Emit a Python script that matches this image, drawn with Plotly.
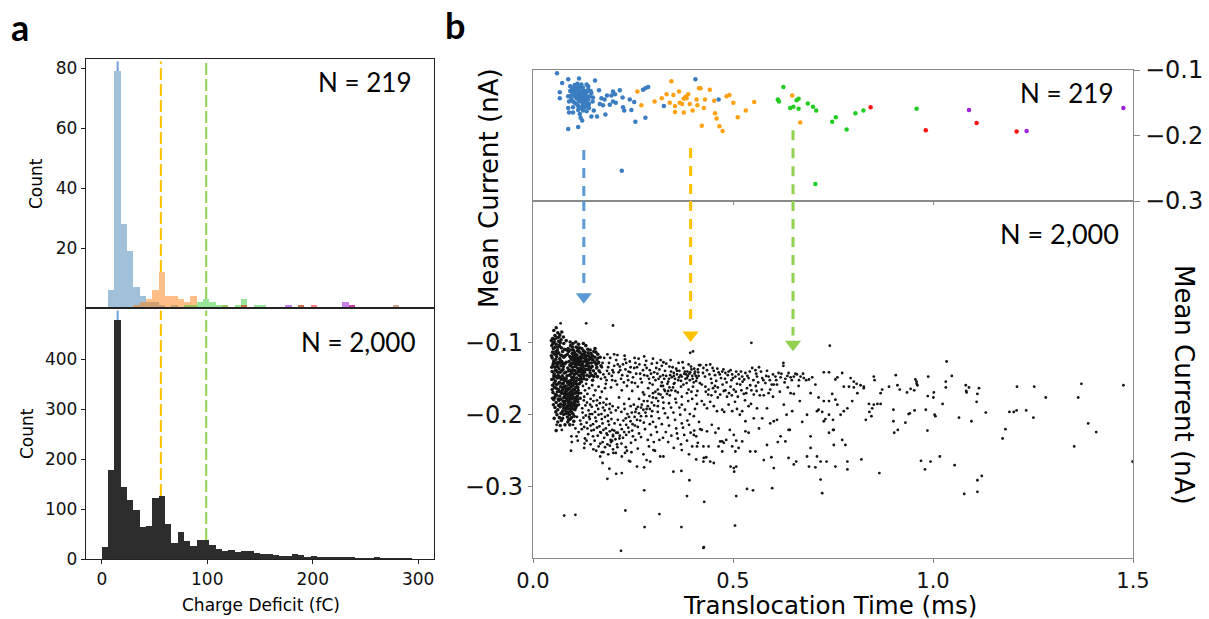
import plotly.graph_objects as go

# ---------------- DATA ----------------
# Panel a: charge-deficit histograms (6 fC bins, centres in fC)
bin_centers_fc = [3, 9, 15, 21, 27, 33, 39, 45, 51, 57, 63, 69, 75, 81, 87, 93, 99, 105, 111, 117,
                  123, 129, 135, 141, 147, 153, 159, 165, 171, 177, 183, 189, 195, 201, 207, 213,
                  219, 225, 231, 237, 243, 249, 255, 261, 267, 273, 279, 285, 291, 297]
bin_width_fc = 6
counts_2000 = [24, 178, 478, 144, 119, 98, 64, 66, 123, 126, 70, 32, 54, 36, 27, 38, 38, 28, 20, 17,
               18, 14, 17, 16, 12, 11, 11, 9, 7, 7, 10, 8, 4, 6, 3, 3, 3, 3, 4, 4,
               2, 1, 2, 4, 1, 1, 2, 2, 1, 0]

h219_blue_x = [9, 15, 21, 27, 33, 39, 45, 51, 57, 69]
h219_blue_y = [6, 79, 28, 19, 7, 4, 2, 2, 1, 1]
h219_orange_x = [33, 39, 45, 51, 57, 63, 69, 75, 81, 87, 117]
h219_orange_y = [1, 2, 3, 6, 12, 4, 4, 3, 2, 4, 1]
h219_green_x = [81, 87, 93, 99, 105, 111, 117, 129, 135, 147, 153, 189]
h219_green_y = [1, 1, 2, 3, 2, 1, 1, 1, 3, 1, 1, 1]
h219_red_x = [135, 189, 201, 237]
h219_red_y = [1, 1, 1, 1]
h219_purple_x = [177, 231, 237]
h219_purple_y = [1, 2, 1]
h219_brown_x = [279]
h219_brown_y = [1]

peak_marks_fc = [15, 56, 99]
hist_top_range = [0, 83]
hist_bottom_range = [0, 502]

# Panel b top: 219 events (translocation time ms, mean current nA)
ev219_blue = [
    (0.060, -0.105), (0.073, -0.120), (0.088, -0.114), (0.115, -0.113), (0.155, -0.116),
    (0.104, -0.123), (0.111, -0.121), (0.121, -0.122), (0.134, -0.122), (0.098, -0.128),
    (0.107, -0.127), (0.117, -0.126), (0.125, -0.127), (0.138, -0.125), (0.067, -0.134),
    (0.093, -0.132), (0.102, -0.133), (0.113, -0.132), (0.124, -0.132), (0.134, -0.134),
    (0.146, -0.135), (0.165, -0.131), (0.200, -0.133), (0.217, -0.131), (0.205, -0.137),
    (0.196, -0.139), (0.185, -0.139), (0.067, -0.143), (0.088, -0.140), (0.096, -0.145),
    (0.109, -0.143), (0.117, -0.140), (0.129, -0.143), (0.138, -0.145), (0.090, -0.148),
    (0.104, -0.150), (0.117, -0.148), (0.125, -0.150), (0.134, -0.149), (0.149, -0.148),
    (0.171, -0.143), (0.179, -0.145), (0.200, -0.148), (0.207, -0.150), (0.192, -0.153),
    (0.175, -0.154), (0.167, -0.152), (0.224, -0.142), (0.242, -0.145), (0.253, -0.149),
    (0.088, -0.158), (0.100, -0.157), (0.113, -0.155), (0.121, -0.158), (0.129, -0.157),
    (0.140, -0.158), (0.152, -0.162), (0.090, -0.165), (0.100, -0.165), (0.117, -0.167),
    (0.134, -0.163), (0.146, -0.171), (0.160, -0.171), (0.181, -0.168), (0.225, -0.157),
    (0.228, -0.162), (0.246, -0.161), (0.119, -0.173), (0.123, -0.177), (0.088, -0.190),
    (0.113, -0.187), (0.256, -0.179), (0.281, -0.173), (0.275, -0.130), (0.281, -0.128),
    (0.288, -0.126), (0.406, -0.114), (0.327, -0.155), (0.464, -0.145), (0.222, -0.254),
    (0.109, -0.125), (0.115, -0.128), (0.121, -0.134), (0.127, -0.137), (0.119, -0.138),
    (0.110, -0.138), (0.104, -0.140), (0.125, -0.140), (0.134, -0.140), (0.142, -0.140),
    (0.113, -0.145), (0.121, -0.145), (0.129, -0.147), (0.109, -0.152), (0.134, -0.154),
    (0.124, -0.154), (0.104, -0.135), (0.098, -0.137), (0.138, -0.130), (0.144, -0.132),
    (0.093, -0.125), (0.107, -0.130), (0.129, -0.132), (0.115, -0.135), (0.124, -0.144),
    (0.100, -0.148), (0.140, -0.152), (0.113, -0.161), (0.125, -0.162), (0.094, -0.140),
    (0.150, -0.142)]
ev219_orange = [
    (0.346, -0.117), (0.261, -0.133), (0.304, -0.148), (0.322, -0.143), (0.334, -0.137),
    (0.351, -0.138), (0.365, -0.133), (0.380, -0.142), (0.384, -0.143), (0.388, -0.137),
    (0.392, -0.152), (0.409, -0.145), (0.415, -0.128), (0.419, -0.128), (0.430, -0.145),
    (0.442, -0.130), (0.453, -0.147), (0.484, -0.140), (0.491, -0.138), (0.501, -0.150),
    (0.553, -0.149), (0.342, -0.150), (0.355, -0.155), (0.367, -0.150), (0.373, -0.152),
    (0.355, -0.164), (0.377, -0.165), (0.399, -0.162), (0.411, -0.154), (0.427, -0.158),
    (0.455, -0.166), (0.459, -0.174), (0.466, -0.186), (0.474, -0.193), (0.422, -0.185),
    (0.512, -0.172), (0.532, -0.162), (0.271, -0.154), (0.382, -0.141), (0.648, -0.139),
    (0.668, -0.180), (0.377, -0.144)]
ev219_green = [
    (0.626, -0.126), (0.612, -0.145), (0.615, -0.148), (0.659, -0.146), (0.664, -0.144),
    (0.643, -0.158), (0.651, -0.156), (0.664, -0.159), (0.687, -0.151), (0.700, -0.156),
    (0.708, -0.162), (0.748, -0.179), (0.757, -0.172), (0.784, -0.191), (0.806, -0.166),
    (0.826, -0.162), (0.959, -0.159), (0.706, -0.274)]
ev219_red = [(0.844, -0.157), (0.982, -0.192), (1.109, -0.181), (1.209, -0.194)]
ev219_purple = [(1.090, -0.161), (1.234, -0.193), (1.476, -0.158)]

# Panel b bottom: 2,000 events (translocation time ms, mean current nA)
ev2000_left = [
    (0.052, -0.083), (0.058, -0.079), (0.062, -0.086), (0.055, -0.090), (0.049, -0.094), (0.060, -0.093),
    (0.067, -0.089), (0.072, -0.085), (0.053, -0.099), (0.058, -0.102), (0.064, -0.098), (0.070, -0.096),
    (0.076, -0.092), (0.047, -0.104), (0.051, -0.108), (0.056, -0.106), (0.061, -0.110), (0.066, -0.104),
    (0.071, -0.107), (0.077, -0.101), (0.049, -0.113), (0.054, -0.116), (0.059, -0.119), (0.064, -0.114),
    (0.069, -0.117), (0.074, -0.112), (0.079, -0.109), (0.048, -0.121), (0.052, -0.125), (0.057, -0.123),
    (0.062, -0.127), (0.067, -0.122), (0.072, -0.126), (0.077, -0.120), (0.050, -0.131), (0.055, -0.134),
    (0.060, -0.130), (0.065, -0.136), (0.070, -0.132), (0.075, -0.137), (0.080, -0.129), (0.048, -0.140),
    (0.053, -0.143), (0.058, -0.139), (0.063, -0.145), (0.068, -0.141), (0.073, -0.146), (0.078, -0.142),
    (0.051, -0.150), (0.056, -0.153), (0.061, -0.149), (0.066, -0.155), (0.071, -0.151), (0.076, -0.156),
    (0.049, -0.159), (0.054, -0.162), (0.059, -0.158), (0.064, -0.165), (0.069, -0.161), (0.074, -0.166),
    (0.079, -0.160), (0.050, -0.169), (0.056, -0.172), (0.061, -0.168), (0.067, -0.174), (0.072, -0.170),
    (0.077, -0.176), (0.052, -0.179), (0.058, -0.183), (0.063, -0.178), (0.069, -0.185), (0.075, -0.181),
    (0.055, -0.190), (0.062, -0.193), (0.068, -0.189), (0.074, -0.195), (0.060, -0.200), (0.066, -0.204),
    (0.079, -0.199), (0.071, -0.208),
    (0.046, -0.097), (0.050, -0.101), (0.054, -0.095), (0.057, -0.112), (0.063, -0.106), (0.068, -0.100),
    (0.073, -0.118), (0.046, -0.118), (0.051, -0.128), (0.056, -0.128), (0.061, -0.133), (0.066, -0.128),
    (0.071, -0.139), (0.076, -0.133), (0.047, -0.134), (0.052, -0.146), (0.057, -0.147), (0.062, -0.141),
    (0.067, -0.148), (0.072, -0.157), (0.077, -0.149), (0.047, -0.151), (0.053, -0.156), (0.058, -0.163),
    (0.063, -0.157), (0.068, -0.168), (0.073, -0.162), (0.078, -0.171), (0.048, -0.165), (0.054, -0.176),
    (0.059, -0.173), (0.065, -0.180), (0.070, -0.178), (0.076, -0.187), (0.051, -0.186), (0.057, -0.196),
    (0.064, -0.187), (0.070, -0.198), (0.078, -0.183), (0.053, -0.205), (0.062, -0.210), (0.068, -0.215),
    (0.058, -0.222), (0.074, -0.205), (0.080, -0.214), (0.049, -0.177), (0.056, -0.138), (0.060, -0.115),
    (0.065, -0.092), (0.069, -0.125), (0.074, -0.129), (0.079, -0.152), (0.081, -0.118), (0.083, -0.127),
    (0.082, -0.141), (0.084, -0.110), (0.085, -0.146), (0.083, -0.097)]
ev2000_blob = [
    (0.088, -0.108), (0.094, -0.104), (0.101, -0.110), (0.108, -0.106), (0.115, -0.112), (0.122, -0.108),
    (0.130, -0.113), (0.137, -0.109), (0.145, -0.115), (0.152, -0.112), (0.086, -0.116), (0.092, -0.119),
    (0.098, -0.115), (0.104, -0.121), (0.110, -0.117), (0.117, -0.120), (0.124, -0.116), (0.131, -0.122),
    (0.139, -0.118), (0.147, -0.123), (0.155, -0.120), (0.090, -0.126), (0.096, -0.129), (0.102, -0.125),
    (0.107, -0.130), (0.113, -0.126), (0.119, -0.131), (0.125, -0.127), (0.132, -0.132), (0.140, -0.128),
    (0.148, -0.133), (0.158, -0.130), (0.087, -0.135), (0.093, -0.138), (0.099, -0.134), (0.105, -0.139),
    (0.111, -0.135), (0.117, -0.140), (0.123, -0.136), (0.129, -0.141), (0.136, -0.137), (0.143, -0.142),
    (0.151, -0.139), (0.091, -0.145), (0.097, -0.148), (0.103, -0.144), (0.109, -0.149), (0.115, -0.145),
    (0.121, -0.150), (0.127, -0.146), (0.134, -0.151), (0.141, -0.147), (0.149, -0.152), (0.100, -0.119),
    (0.112, -0.123), (0.120, -0.125), (0.128, -0.121), (0.106, -0.133), (0.114, -0.130), (0.126, -0.133),
    (0.134, -0.125), (0.118, -0.114), (0.110, -0.142), (0.122, -0.143), (0.097, -0.141), (0.103, -0.113),
    (0.135, -0.145), (0.144, -0.135), (0.116, -0.137), (0.108, -0.127), (0.124, -0.139), (0.130, -0.118),
    (0.095, -0.122), (0.113, -0.108), (0.142, -0.121), (0.119, -0.147), (0.160, -0.124), (0.156, -0.143),
    (0.162, -0.116),
    (0.089, -0.112), (0.095, -0.110), (0.099, -0.106), (0.105, -0.115), (0.111, -0.111), (0.116, -0.107),
    (0.120, -0.119), (0.126, -0.111), (0.133, -0.118), (0.138, -0.114), (0.143, -0.110), (0.149, -0.118),
    (0.154, -0.127), (0.159, -0.135), (0.146, -0.128), (0.140, -0.133), (0.135, -0.129), (0.129, -0.126),
    (0.123, -0.130), (0.118, -0.124), (0.112, -0.129), (0.106, -0.124), (0.101, -0.129), (0.094, -0.132),
    (0.089, -0.139), (0.095, -0.143), (0.101, -0.138), (0.107, -0.143), (0.113, -0.139), (0.119, -0.135),
    (0.125, -0.143), (0.131, -0.137), (0.137, -0.132), (0.142, -0.138), (0.147, -0.145), (0.152, -0.147),
    (0.127, -0.150), (0.121, -0.154), (0.115, -0.151), (0.108, -0.153), (0.102, -0.148), (0.096, -0.152),
    (0.092, -0.131), (0.098, -0.124), (0.104, -0.118), (0.110, -0.121), (0.116, -0.127), (0.122, -0.121),
    (0.128, -0.116), (0.133, -0.122), (0.139, -0.124), (0.145, -0.120), (0.150, -0.124), (0.157, -0.113),
    (0.163, -0.128), (0.165, -0.139), (0.161, -0.147), (0.168, -0.120), (0.170, -0.132), (0.155, -0.108),
    (0.132, -0.104), (0.126, -0.101), (0.114, -0.102), (0.107, -0.099), (0.100, -0.101), (0.093, -0.099)]
ev2000_streak = [
    (0.080, -0.152), (0.086, -0.155), (0.092, -0.153), (0.098, -0.157), (0.104, -0.154), (0.110, -0.158),
    (0.083, -0.160), (0.089, -0.163), (0.095, -0.161), (0.101, -0.165), (0.107, -0.162), (0.113, -0.166),
    (0.081, -0.168), (0.087, -0.171), (0.093, -0.169), (0.099, -0.173), (0.105, -0.170), (0.111, -0.174),
    (0.084, -0.177), (0.090, -0.180), (0.096, -0.178), (0.102, -0.182), (0.108, -0.179), (0.079, -0.185),
    (0.085, -0.188), (0.091, -0.186), (0.097, -0.190), (0.103, -0.187), (0.082, -0.194), (0.088, -0.197),
    (0.094, -0.195), (0.100, -0.199), (0.086, -0.203), (0.093, -0.206), (0.099, -0.160), (0.092, -0.176),
    (0.088, -0.184), (0.106, -0.176), (0.096, -0.192), (0.084, -0.165), (0.101, -0.151), (0.090, -0.158),
    (0.097, -0.167), (0.089, -0.192), (0.077, -0.191), (0.105, -0.193), (0.112, -0.182), (0.080, -0.174),
    (0.094, -0.184), (0.087, -0.210),
    (0.083, -0.150), (0.089, -0.154), (0.095, -0.156), (0.101, -0.158), (0.107, -0.156), (0.112, -0.162),
    (0.080, -0.163), (0.086, -0.166), (0.092, -0.164), (0.098, -0.170), (0.104, -0.166), (0.109, -0.169),
    (0.082, -0.172), (0.088, -0.175), (0.094, -0.173), (0.100, -0.177), (0.106, -0.180), (0.112, -0.178),
    (0.081, -0.181), (0.087, -0.180), (0.093, -0.182), (0.099, -0.185), (0.104, -0.184), (0.110, -0.187),
    (0.083, -0.190), (0.090, -0.188), (0.095, -0.188), (0.101, -0.192), (0.107, -0.190), (0.084, -0.198),
    (0.091, -0.200), (0.097, -0.197), (0.103, -0.202), (0.089, -0.207), (0.096, -0.204), (0.102, -0.209),
    (0.092, -0.214), (0.114, -0.170), (0.116, -0.157), (0.118, -0.177)]
ev2000_lowleft = [
    (0.118, -0.155), (0.125, -0.160), (0.133, -0.157), (0.140, -0.163), (0.148, -0.159), (0.156, -0.166),
    (0.164, -0.161), (0.172, -0.168), (0.180, -0.163), (0.120, -0.170), (0.128, -0.175), (0.136, -0.171),
    (0.144, -0.178), (0.152, -0.173), (0.160, -0.180), (0.168, -0.176), (0.176, -0.183), (0.184, -0.178),
    (0.192, -0.185), (0.115, -0.186), (0.123, -0.191), (0.131, -0.187), (0.139, -0.194), (0.147, -0.189),
    (0.155, -0.196), (0.163, -0.192), (0.171, -0.199), (0.179, -0.194), (0.187, -0.201), (0.195, -0.197),
    (0.110, -0.203), (0.118, -0.208), (0.126, -0.204), (0.134, -0.211), (0.142, -0.206), (0.150, -0.213),
    (0.158, -0.209), (0.166, -0.216), (0.174, -0.212), (0.182, -0.219), (0.190, -0.214), (0.198, -0.221),
    (0.106, -0.219), (0.114, -0.224), (0.122, -0.220), (0.138, -0.227), (0.146, -0.222), (0.162, -0.229),
    (0.170, -0.225), (0.178, -0.232), (0.186, -0.228), (0.194, -0.235), (0.154, -0.236), (0.168, -0.240),
    (0.180, -0.245), (0.192, -0.243), (0.200, -0.248), (0.176, -0.252), (0.188, -0.255), (0.207, -0.253),
    (0.130, -0.233), (0.144, -0.241), (0.158, -0.250), (0.100, -0.214), (0.096, -0.230), (0.112, -0.236),
    (0.128, -0.246), (0.168, -0.258), (0.142, -0.199), (0.130, -0.166),
    (0.127, -0.180), (0.135, -0.183), (0.143, -0.186), (0.151, -0.181), (0.159, -0.187), (0.167, -0.184),
    (0.175, -0.190), (0.183, -0.186), (0.191, -0.192), (0.199, -0.188), (0.207, -0.194), (0.213, -0.190),
    (0.221, -0.196), (0.229, -0.192), (0.236, -0.199), (0.124, -0.197), (0.132, -0.201), (0.140, -0.203),
    (0.148, -0.199), (0.156, -0.204), (0.164, -0.200), (0.172, -0.206), (0.180, -0.203), (0.188, -0.209),
    (0.196, -0.206), (0.204, -0.212), (0.212, -0.207), (0.120, -0.213), (0.128, -0.217), (0.136, -0.219),
    (0.144, -0.215), (0.152, -0.221), (0.160, -0.218), (0.168, -0.224), (0.176, -0.221), (0.184, -0.226),
    (0.192, -0.223), (0.200, -0.228), (0.208, -0.225), (0.216, -0.233), (0.134, -0.236), (0.150, -0.230),
    (0.164, -0.244), (0.174, -0.238), (0.186, -0.241), (0.198, -0.236), (0.211, -0.245), (0.221, -0.240),
    (0.230, -0.253)]
ev2000_upper = [
    (0.165, -0.127), (0.172, -0.134), (0.178, -0.121), (0.185, -0.139), (0.190, -0.128), (0.197, -0.146),
    (0.203, -0.132), (0.208, -0.124), (0.214, -0.141), (0.220, -0.150), (0.225, -0.130), (0.231, -0.137),
    (0.236, -0.146), (0.242, -0.126), (0.247, -0.155), (0.253, -0.135), (0.258, -0.143), (0.264, -0.122),
    (0.269, -0.150), (0.275, -0.138), (0.280, -0.131), (0.286, -0.146), (0.292, -0.156), (0.297, -0.129),
    (0.303, -0.141), (0.308, -0.135), (0.314, -0.150), (0.319, -0.124), (0.325, -0.145), (0.330, -0.139),
    (0.336, -0.157), (0.341, -0.133), (0.347, -0.148), (0.352, -0.142), (0.358, -0.136), (0.363, -0.152),
    (0.369, -0.145), (0.374, -0.127), (0.380, -0.140), (0.385, -0.149), (0.391, -0.143), (0.396, -0.137),
    (0.402, -0.155), (0.407, -0.146), (0.413, -0.141), (0.170, -0.150), (0.182, -0.157), (0.195, -0.162),
    (0.210, -0.158), (0.222, -0.166), (0.235, -0.160), (0.248, -0.167), (0.262, -0.161), (0.275, -0.169),
    (0.288, -0.163), (0.300, -0.170), (0.312, -0.165), (0.325, -0.160), (0.338, -0.167), (0.350, -0.162),
    (0.362, -0.169), (0.376, -0.158), (0.389, -0.165), (0.400, -0.161), (0.411, -0.167), (0.176, -0.144),
    (0.199, -0.138), (0.217, -0.133), (0.239, -0.140), (0.256, -0.128), (0.283, -0.125), (0.301, -0.148),
    (0.322, -0.132), (0.345, -0.140), (0.366, -0.139), (0.383, -0.144), (0.398, -0.146), (0.405, -0.140),
    (0.372, -0.147), (0.392, -0.152), (0.355, -0.150), (0.333, -0.146), (0.310, -0.128), (0.292, -0.138),
    (0.268, -0.143), (0.244, -0.134), (0.230, -0.123), (0.186, -0.116), (0.160, -0.134), (0.203, -0.116),
    (0.395, -0.133), (0.415, -0.131), (0.318, -0.147), (0.340, -0.150), (0.360, -0.144), (0.378, -0.143),
    (0.386, -0.140), (0.404, -0.143), (0.410, -0.149), (0.352, -0.146),
    (0.163, -0.121), (0.168, -0.141), (0.174, -0.128), (0.180, -0.148), (0.188, -0.134), (0.193, -0.121),
    (0.201, -0.141), (0.206, -0.153), (0.212, -0.130), (0.218, -0.138), (0.223, -0.145), (0.227, -0.155),
    (0.233, -0.128), (0.238, -0.152), (0.243, -0.141), (0.250, -0.148), (0.255, -0.156), (0.260, -0.134),
    (0.266, -0.130), (0.272, -0.155), (0.278, -0.145), (0.284, -0.135), (0.290, -0.150), (0.295, -0.143),
    (0.299, -0.158), (0.306, -0.152), (0.311, -0.143), (0.316, -0.137), (0.322, -0.155), (0.328, -0.150),
    (0.333, -0.129), (0.338, -0.154), (0.343, -0.145), (0.349, -0.134), (0.354, -0.156), (0.360, -0.139),
    (0.365, -0.148), (0.370, -0.153), (0.376, -0.135), (0.381, -0.150), (0.387, -0.146), (0.393, -0.141),
    (0.399, -0.150), (0.403, -0.136), (0.408, -0.153), (0.414, -0.146), (0.417, -0.156), (0.412, -0.137),
    (0.389, -0.130), (0.364, -0.128), (0.344, -0.124), (0.326, -0.127), (0.300, -0.122), (0.278, -0.119),
    (0.254, -0.121), (0.229, -0.118), (0.211, -0.117), (0.190, -0.143), (0.198, -0.152), (0.184, -0.152)]
ev2000_diag = [
    (0.195, -0.238), (0.200, -0.230), (0.206, -0.234), (0.212, -0.225), (0.217, -0.229), (0.222, -0.220),
    (0.228, -0.224), (0.233, -0.214), (0.238, -0.218), (0.244, -0.209), (0.249, -0.213), (0.254, -0.203),
    (0.260, -0.207), (0.265, -0.198), (0.270, -0.202), (0.276, -0.193), (0.281, -0.197), (0.287, -0.188),
    (0.292, -0.192), (0.297, -0.183), (0.303, -0.187), (0.308, -0.177), (0.313, -0.181), (0.319, -0.172),
    (0.324, -0.176), (0.330, -0.167), (0.335, -0.171), (0.341, -0.162), (0.346, -0.166), (0.352, -0.157),
    (0.210, -0.241), (0.225, -0.232), (0.240, -0.224), (0.255, -0.215), (0.268, -0.208), (0.283, -0.202),
    (0.298, -0.195), (0.312, -0.188), (0.326, -0.183), (0.203, -0.222), (0.218, -0.214), (0.232, -0.205),
    (0.247, -0.197), (0.262, -0.189), (0.277, -0.181), (0.291, -0.174), (0.306, -0.168), (0.320, -0.160),
    (0.215, -0.176), (0.228, -0.185), (0.240, -0.178), (0.252, -0.186), (0.265, -0.178), (0.278, -0.172),
    (0.300, -0.210), (0.315, -0.205), (0.330, -0.198), (0.345, -0.190), (0.358, -0.183), (0.372, -0.175),
    (0.385, -0.170), (0.398, -0.178), (0.410, -0.185), (0.340, -0.215), (0.355, -0.207), (0.368, -0.200),
    (0.380, -0.193), (0.392, -0.199), (0.405, -0.192), (0.360, -0.226), (0.375, -0.218), (0.390, -0.214),
    (0.403, -0.222), (0.415, -0.210), (0.250, -0.230), (0.265, -0.226), (0.280, -0.220), (0.295, -0.228),
    (0.310, -0.224), (0.325, -0.232), (0.338, -0.238), (0.352, -0.246), (0.370, -0.241), (0.385, -0.236),
    (0.398, -0.244), (0.412, -0.239), (0.232, -0.245), (0.246, -0.252), (0.262, -0.247), (0.276, -0.255),
    (0.290, -0.244), (0.305, -0.250), (0.318, -0.258), (0.390, -0.255), (0.408, -0.262), (0.222, -0.258),
    (0.240, -0.264), (0.284, -0.263),
    (0.245, -0.239), (0.256, -0.235), (0.270, -0.231), (0.287, -0.235), (0.302, -0.238), (0.316, -0.235),
    (0.332, -0.224), (0.346, -0.229), (0.362, -0.233), (0.378, -0.228), (0.394, -0.225), (0.408, -0.230),
    (0.418, -0.220), (0.244, -0.188), (0.258, -0.192), (0.272, -0.186), (0.286, -0.181), (0.300, -0.176),
    (0.314, -0.171), (0.328, -0.165), (0.342, -0.173), (0.356, -0.167), (0.370, -0.161), (0.384, -0.156),
    (0.396, -0.168), (0.408, -0.173), (0.366, -0.190), (0.351, -0.197), (0.337, -0.204), (0.322, -0.213),
    (0.307, -0.217), (0.292, -0.213), (0.277, -0.211), (0.262, -0.217), (0.248, -0.222), (0.233, -0.228),
    (0.226, -0.208), (0.240, -0.203), (0.256, -0.196), (0.270, -0.190), (0.284, -0.192), (0.296, -0.202),
    (0.312, -0.196), (0.326, -0.191), (0.340, -0.184), (0.356, -0.178), (0.372, -0.186), (0.388, -0.181),
    (0.402, -0.202), (0.386, -0.208), (0.372, -0.212), (0.358, -0.219)]
ev2000_sparse_low = [
    (0.059, -0.214), (0.076, -0.200), (0.072, -0.221), (0.097, -0.238), (0.095, -0.250), (0.129, -0.240),
    (0.109, -0.230), (0.151, -0.248), (0.172, -0.252), (0.174, -0.267), (0.191, -0.275), (0.186, -0.289),
    (0.208, -0.282), (0.222, -0.281), (0.201, -0.253), (0.235, -0.250), (0.243, -0.265), (0.260, -0.272),
    (0.278, -0.273), (0.278, -0.305), (0.293, -0.265), (0.301, -0.249), (0.326, -0.258), (0.351, -0.279),
    (0.371, -0.278), (0.391, -0.291), (0.385, -0.313), (0.372, -0.249), (0.402, -0.228), (0.410, -0.244),
    (0.427, -0.260), (0.078, -0.340), (0.106, -0.339), (0.231, -0.333), (0.279, -0.356), (0.316, -0.338),
    (0.371, -0.356), (0.220, -0.389), (0.427, -0.384), (0.069, -0.073), (0.133, -0.073), (0.200, -0.076),
    (0.393, -0.114), (0.400, -0.112), (0.418, -0.131)]
ev2000_mid = [
    (0.546, -0.100), (0.742, -0.104), (0.626, -0.128), (0.626, -0.132), (0.418, -0.131), (0.426, -0.135),
    (0.435, -0.138), (0.443, -0.130), (0.452, -0.139), (0.464, -0.141), (0.473, -0.140), (0.481, -0.142),
    (0.489, -0.140), (0.498, -0.144), (0.506, -0.147), (0.514, -0.144), (0.523, -0.147), (0.531, -0.142),
    (0.539, -0.149), (0.548, -0.135), (0.556, -0.138), (0.560, -0.147), (0.565, -0.134), (0.573, -0.149),
    (0.585, -0.139), (0.589, -0.147), (0.597, -0.158), (0.606, -0.147), (0.614, -0.142), (0.619, -0.148),
    (0.631, -0.150), (0.639, -0.142), (0.644, -0.148), (0.652, -0.147), (0.660, -0.144), (0.669, -0.147),
    (0.677, -0.149), (0.690, -0.151), (0.698, -0.148), (0.706, -0.158), (0.727, -0.141), (0.740, -0.141),
    (0.756, -0.151), (0.773, -0.142), (0.761, -0.148), (0.790, -0.161), (0.794, -0.149), (0.802, -0.154),
    (0.809, -0.157), (0.819, -0.159), (0.827, -0.163), (0.852, -0.147), (0.854, -0.152), (0.869, -0.170),
    (0.873, -0.165), (0.890, -0.161), (0.907, -0.145), (0.911, -0.159), (0.917, -0.165),
    (0.422, -0.158), (0.431, -0.161), (0.439, -0.165), (0.447, -0.156), (0.450, -0.163), (0.456, -0.168),
    (0.462, -0.162), (0.468, -0.172), (0.477, -0.167), (0.485, -0.175), (0.494, -0.161), (0.502, -0.165),
    (0.512, -0.175), (0.518, -0.158), (0.527, -0.171), (0.535, -0.163), (0.543, -0.159), (0.552, -0.172),
    (0.559, -0.167), (0.567, -0.173), (0.577, -0.173), (0.581, -0.156), (0.593, -0.165), (0.602, -0.158),
    (0.610, -0.158), (0.617, -0.168), (0.627, -0.186), (0.637, -0.162), (0.644, -0.170), (0.652, -0.171),
    (0.664, -0.160), (0.667, -0.181), (0.694, -0.170), (0.714, -0.176), (0.727, -0.181), (0.740, -0.181),
    (0.748, -0.171), (0.756, -0.179), (0.761, -0.186), (0.777, -0.161), (0.786, -0.191), (0.798, -0.181),
    (0.802, -0.162), (0.811, -0.170), (0.827, -0.161), (0.840, -0.185), (0.848, -0.191), (0.852, -0.186),
    (0.861, -0.185), (0.869, -0.185),
    (0.422, -0.181), (0.428, -0.186), (0.435, -0.191), (0.443, -0.182), (0.452, -0.188), (0.460, -0.195),
    (0.473, -0.193), (0.478, -0.196), (0.489, -0.186), (0.498, -0.195), (0.510, -0.192), (0.517, -0.200),
    (0.523, -0.195), (0.531, -0.209), (0.539, -0.188), (0.552, -0.205), (0.560, -0.191), (0.573, -0.205),
    (0.585, -0.191), (0.593, -0.212), (0.602, -0.209), (0.610, -0.207), (0.634, -0.200), (0.642, -0.221),
    (0.648, -0.195), (0.673, -0.210), (0.685, -0.200), (0.710, -0.195), (0.714, -0.193), (0.723, -0.196),
    (0.727, -0.209), (0.731, -0.206), (0.740, -0.200), (0.750, -0.207), (0.752, -0.221), (0.769, -0.200),
    (0.777, -0.195), (0.832, -0.207), (0.841, -0.196), (0.846, -0.202), (0.901, -0.193), (0.901, -0.209),
    (0.422, -0.221), (0.435, -0.223), (0.447, -0.214), (0.456, -0.225), (0.464, -0.219), (0.473, -0.237),
    (0.477, -0.239), (0.483, -0.235), (0.492, -0.221), (0.502, -0.228), (0.508, -0.236), (0.514, -0.246),
    (0.523, -0.237), (0.531, -0.223), (0.539, -0.225), (0.543, -0.251), (0.556, -0.251), (0.565, -0.219),
    (0.577, -0.263), (0.585, -0.242), (0.596, -0.259), (0.602, -0.274), (0.612, -0.238), (0.619, -0.230),
    (0.631, -0.237), (0.639, -0.221), (0.639, -0.260), (0.652, -0.269), (0.658, -0.265), (0.685, -0.258),
    (0.690, -0.272), (0.694, -0.246), (0.694, -0.230), (0.706, -0.273), (0.710, -0.258), (0.719, -0.265),
    (0.740, -0.225), (0.734, -0.265), (0.750, -0.221), (0.752, -0.242), (0.756, -0.272), (0.773, -0.235),
    (0.781, -0.242), (0.786, -0.265), (0.786, -0.276), (0.821, -0.262), (0.866, -0.281), (0.903, -0.225),
    (0.912, -0.221), (0.426, -0.265), (0.433, -0.259), (0.439, -0.244), (0.443, -0.265), (0.452, -0.267),
    (0.464, -0.244), (0.473, -0.251), (0.494, -0.272), (0.498, -0.244), (0.502, -0.274), (0.506, -0.251),
    (0.503, -0.279), (0.508, -0.272), (0.468, -0.237), (0.426, -0.244),
    (0.535, -0.303), (0.550, -0.305), (0.598, -0.302), (0.508, -0.313), (0.428, -0.321), (0.719, -0.290),
    (0.723, -0.309), (0.505, -0.354), (0.426, -0.385),
    (0.430, -0.147), (0.445, -0.150), (0.458, -0.153), (0.470, -0.149), (0.484, -0.155), (0.496, -0.152),
    (0.510, -0.157), (0.524, -0.154), (0.438, -0.172), (0.462, -0.176), (0.490, -0.170), (0.505, -0.182),
    (0.530, -0.180), (0.545, -0.185),
    (0.425, -0.142), (0.433, -0.131), (0.441, -0.144), (0.449, -0.135), (0.455, -0.145), (0.461, -0.136),
    (0.467, -0.144), (0.476, -0.137), (0.480, -0.150), (0.487, -0.145), (0.494, -0.138), (0.500, -0.149),
    (0.508, -0.140), (0.516, -0.150), (0.520, -0.140), (0.528, -0.151), (0.536, -0.146), (0.542, -0.140),
    (0.551, -0.152), (0.558, -0.143), (0.563, -0.155), (0.570, -0.140), (0.576, -0.152), (0.583, -0.146),
    (0.592, -0.152), (0.600, -0.144), (0.608, -0.152), (0.621, -0.143), (0.629, -0.155), (0.636, -0.146),
    (0.647, -0.152), (0.656, -0.143), (0.665, -0.152), (0.675, -0.143), (0.683, -0.152), (0.432, -0.168),
    (0.446, -0.173), (0.455, -0.160), (0.474, -0.158), (0.481, -0.166), (0.497, -0.173), (0.507, -0.168),
    (0.521, -0.166), (0.533, -0.170), (0.546, -0.166), (0.557, -0.160), (0.572, -0.165), (0.589, -0.170),
    (0.600, -0.175)]
ev2000_long = [
    (1.034, -0.126), (1.047, -0.146), (0.988, -0.147), (0.956, -0.151), (0.959, -0.154), (0.959, -0.157),
    (0.935, -0.169), (0.944, -0.164), (0.953, -0.166), (0.961, -0.159), (1.032, -0.154), (1.032, -0.162),
    (1.082, -0.159), (1.090, -0.162), (1.115, -0.163), (1.083, -0.167), (1.084, -0.169), (1.111, -0.171),
    (1.109, -0.182), (1.024, -0.185), (0.987, -0.174), (1.002, -0.169), (1.001, -0.176), (0.982, -0.193),
    (0.954, -0.194), (0.942, -0.198), (0.939, -0.199), (0.931, -0.211), (1.004, -0.200), (1.006, -0.202),
    (1.065, -0.204), (1.096, -0.209), (1.132, -0.197), (0.986, -0.222), (0.970, -0.264), (0.994, -0.265),
    (0.980, -0.276), (1.017, -0.258), (1.054, -0.270), (1.111, -0.291), (1.122, -0.285), (1.078, -0.310),
    (1.111, -0.307), (1.210, -0.161), (1.253, -0.161), (1.282, -0.176), (1.191, -0.196), (1.202, -0.196),
    (1.209, -0.194), (1.233, -0.194), (1.251, -0.204), (1.181, -0.220), (1.174, -0.233), (1.371, -0.157),
    (1.363, -0.176), (1.476, -0.159), (1.388, -0.212), (1.408, -0.224), (1.353, -0.244), (1.499, -0.265)]

# Dashed guide arrows (time in ms; start in top-panel current, tip in bottom-panel current)
arrow_t = [0.127, 0.394, 0.650]
arrow_start_top = [-0.222, -0.219, -0.192]
arrow_tip_bottom = [-0.036, -0.089, -0.102]
arrow_colors = ["#5b9bd5", "#ffc000", "#92d050"]

# ---------------- FIGURE ----------------
W, H = 1209, 619


def px(x):
    return x / W


def py(y):
    return 1 - y / H


fig = go.Figure()

top_series = [(h219_blue_x, h219_blue_y, "#4682b4"),
              (h219_orange_x, h219_orange_y, "#ff7f0e"),
              (h219_green_x, h219_green_y, "#32cd32"),
              (h219_red_x, h219_red_y, "#ff0000"),
              (h219_purple_x, h219_purple_y, "#9400d3"),
              (h219_brown_x, h219_brown_y, "#a0522d")]

# --- panel a, top histogram ---
for xs, ys, col in top_series:
    fig.add_trace(go.Bar(x=xs, y=ys, width=bin_width_fc, marker=dict(color=col, line=dict(width=0)),
                         opacity=0.5, xaxis="x", yaxis="y", showlegend=False))

# --- panel a, bottom histogram ---
fig.add_trace(go.Bar(x=bin_centers_fc, y=counts_2000, width=bin_width_fc,
                     marker=dict(color="#2d2d2d", line=dict(width=0)),
                     xaxis="x2", yaxis="y2", showlegend=False))

# --- panel b, top scatter ---
for pts, col in [(ev219_blue, "#3a7dc0"), (ev219_orange, "#ffa010"), (ev219_green, "#22cc22"),
                 (ev219_red, "#ff1010"), (ev219_purple, "#a020e0")]:
    fig.add_trace(go.Scatter(x=[p[0] for p in pts], y=[p[1] for p in pts], mode="markers",
                             marker=dict(color=col, size=4.5, line=dict(width=0)),
                             xaxis="x3", yaxis="y3", showlegend=False))

# --- panel b, bottom scatter (dense core drawn a touch heavier) ---
bottom_core = ev2000_left + ev2000_blob + ev2000_streak
bottom_rest = (ev2000_lowleft + ev2000_upper + ev2000_diag + ev2000_sparse_low +
               ev2000_mid + ev2000_long)
for pts, sz in [(bottom_rest, 2.8), (bottom_core, 3.6)]:
    fig.add_trace(go.Scatter(x=[p[0] for p in pts], y=[p[1] for p in pts], mode="markers",
                             marker=dict(color="#151515", size=sz, line=dict(width=0)),
                             xaxis="x4", yaxis="y4", showlegend=False))

# --- dashed arrows ---
for t, y0, y1, col in zip(arrow_t, arrow_start_top, arrow_tip_bottom, arrow_colors):
    fig.add_trace(go.Scatter(x=[t, t], y=[y0, -0.3], mode="lines",
                             line=dict(color=col, width=3, dash="10px,8px"),
                             xaxis="x3", yaxis="y3", showlegend=False))
    fig.add_trace(go.Scatter(x=[t, t], y=[0.097, y1 + 0.012], mode="lines",
                             line=dict(color=col, width=3, dash="10px,8px"),
                             xaxis="x4", yaxis="y4", showlegend=False))
    fig.add_trace(go.Scatter(x=[t], y=[y1], mode="markers",
                             marker=dict(symbol="triangle-down", size=14, color=col, line=dict(width=0)),
                             xaxis="x4", yaxis="y4", showlegend=False))


# --- histogram peak lines (start at the top of the bar they sit on) ---
def bar_top(mark, series):
    best = 0
    for xs, ys in series:
        for xv, yv in zip(xs, ys):
            if abs(mark - xv) <= bin_width_fc / 2:
                best = max(best, yv)
    return best


shapes = []
line_cols = ["#6fa0d8", "#ffc000", "#92d050"]
for xv, col in zip(peak_marks_fc, line_cols):
    shapes.append(dict(type="line", xref="x", yref="y", x0=xv, x1=xv,
                       y0=bar_top(xv, [(s[0], s[1]) for s in top_series]), y1=hist_top_range[1] * 0.99,
                       line=dict(color=col, width=2, dash="12px,4px")))
    shapes.append(dict(type="line", xref="x2", yref="y2", x0=xv, x1=xv,
                       y0=bar_top(xv, [(bin_centers_fc, counts_2000)]), y1=hist_bottom_range[1] * 0.99,
                       line=dict(color=col, width=2, dash="12px,4px")))

hist_font = dict(family="DejaVu Sans", size=17, color="#111")
sc_font = dict(family="DejaVu Sans", size=21, color="#111")
yt_font = dict(family="DejaVu Sans", size=24, color="#111")
frame_a = "#222222"
frame_b = "#8a8a8a"

hx_dom = [px(86), px(434)]
sx_dom = [px(533), px(1133)]

common = dict(showgrid=False, zeroline=False, automargin=False, showline=True, mirror=True, linewidth=1.3)

fig.update_layout(
    template="none",
    width=W, height=H, margin=dict(l=0, r=0, t=0, b=0, pad=0),
    paper_bgcolor="white", plot_bgcolor="white", barmode="overlay", bargap=0,
    showlegend=False, shapes=shapes,
    xaxis=dict(domain=hx_dom, range=[-15, 315], anchor="y", showticklabels=False, ticks="",
               linecolor=frame_a, **common),
    yaxis=dict(domain=[py(308), py(59)], range=hist_top_range, anchor="x", tickvals=[20, 40, 60, 80],
               ticks="outside", ticklen=4, tickcolor=frame_a, tickfont=hist_font,
               linecolor=frame_a, **common),
    xaxis2=dict(domain=hx_dom, range=[-15, 315], anchor="y2", tickvals=[0, 100, 200, 300],
                ticks="outside", ticklen=4, tickcolor=frame_a, tickfont=hist_font,
                linecolor=frame_a, **common),
    yaxis2=dict(domain=[py(559), py(308)], range=hist_bottom_range, anchor="x2",
                tickvals=[0, 100, 200, 300, 400],
                ticks="outside", ticklen=4, tickcolor=frame_a, tickfont=hist_font,
                linecolor=frame_a, **common),
    xaxis3=dict(domain=sx_dom, range=[0, 1.5], anchor="y3", showticklabels=False,
                tickvals=[0.5, 1.0], ticks="outside", ticklen=3, tickcolor=frame_b,
                linecolor=frame_b, **common),
    yaxis3=dict(domain=[py(201), py(70)], range=[-0.3, -0.1], anchor="x3", side="right",
                tickvals=[-0.1, -0.2, -0.3], ticks="outside", ticklen=6, tickcolor=frame_b,
                tickfont=yt_font, linecolor=frame_b, **common),
    xaxis4=dict(domain=sx_dom, range=[0, 1.5], anchor="y4", tickvals=[0, 0.5, 1.0, 1.5],
                ticktext=["0.0", "0.5", "1.0", "1.5"], ticks="outside", ticklen=4, tickcolor=frame_b,
                tickfont=sc_font, linecolor=frame_b, **common),
    yaxis4=dict(domain=[py(558), py(201)], range=[-0.399, 0.097], anchor="x4",
                tickvals=[-0.1, -0.2, -0.3], ticks="outside", ticklen=4, tickcolor=frame_b,
                tickfont=yt_font, linecolor=frame_b, **common),
)

ann = []


def add_text(text, x, y, size, family="DejaVu Sans", angle=0, bold=False, xanchor="center"):
    ann.append(dict(text=("<b>%s</b>" % text) if bold else text, x=px(x), y=py(y),
                    xref="paper", yref="paper", showarrow=False, textangle=angle,
                    xanchor=xanchor, yanchor="middle",
                    font=dict(family=family, size=size, color="#000")))


add_text("a", 20, 27, 36, family="Lato", bold=True)
add_text("b", 455, 25, 36, family="Lato", bold=True)
add_text("N = 219", 364, 82, 26, family="Lato")
add_text("N = 2,000", 358, 342, 26, family="Lato")
add_text("Count", 36, 184, 17, angle=-90)
add_text("Count", 27, 434, 17, angle=-90)
add_text("Charge Deficit (fC)", 261, 605, 17)
add_text("N = 219", 1066, 93, 26, family="Lato")
add_text("N = 2,000", 1059, 233, 27, family="Lato")
add_text("Mean Current (nA)", 489, 188, 26, angle=-90)
add_text("Mean Current (nA)", 1184, 385, 26, angle=90)
add_text("Translocation Time (ms)", 830, 605, 24.5)

fig.update_layout(annotations=ann)

fig.write_html("out.html", config={"displayModeBar": False},
               post_script="document.body.style.margin='0';")
